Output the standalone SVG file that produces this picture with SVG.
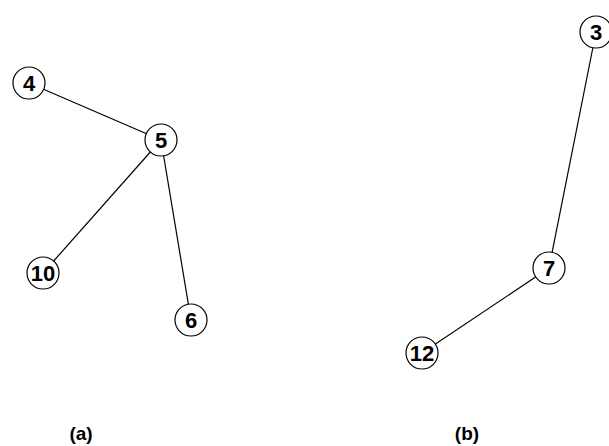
<svg xmlns="http://www.w3.org/2000/svg" width="609" height="446" viewBox="0 0 609 446">
<style>
.n circle{fill:#fff;stroke:#000;stroke-width:1.2}
.n text{font-family:"Liberation Sans",Arial,sans-serif;font-size:22px;font-weight:bold;text-anchor:middle;fill:#000}
#edges line{stroke:#000;stroke-width:1.2}
.cap{font-family:"Liberation Sans",Arial,sans-serif;font-size:19px;font-weight:bold;fill:#000;text-anchor:middle}
</style>
<rect width="609" height="446" fill="#fff"/>
<g id="edges">
<line x1="29" y1="83" x2="161" y2="140"/>
<line x1="161" y1="140" x2="43" y2="273"/>
<line x1="161" y1="140" x2="191" y2="320"/>
<line x1="596" y1="32" x2="549" y2="268"/>
<line x1="549" y1="268" x2="422" y2="353"/>
</g>
<g id="n4" class="n"><circle cx="29" cy="83" r="16"/><text x="29" y="91">4</text></g>
<g id="n5" class="n"><circle cx="161" cy="140" r="16"/><text x="161" y="148">5</text></g>
<g id="n10" class="n"><circle cx="43" cy="273" r="16"/><text x="43" y="281">10</text></g>
<g id="n6" class="n"><circle cx="191" cy="320" r="16"/><text x="191" y="328">6</text></g>
<g id="n3" class="n"><circle cx="596" cy="32" r="16"/><text x="596" y="40">3</text></g>
<g id="n7" class="n"><circle cx="549" cy="268" r="16"/><text x="549" y="276">7</text></g>
<g id="n12" class="n"><circle cx="422" cy="353" r="16"/><text x="422" y="361">12</text></g>
<text class="cap" x="81" y="440">(a)</text>
<text class="cap" x="467" y="440">(b)</text>
</svg>
